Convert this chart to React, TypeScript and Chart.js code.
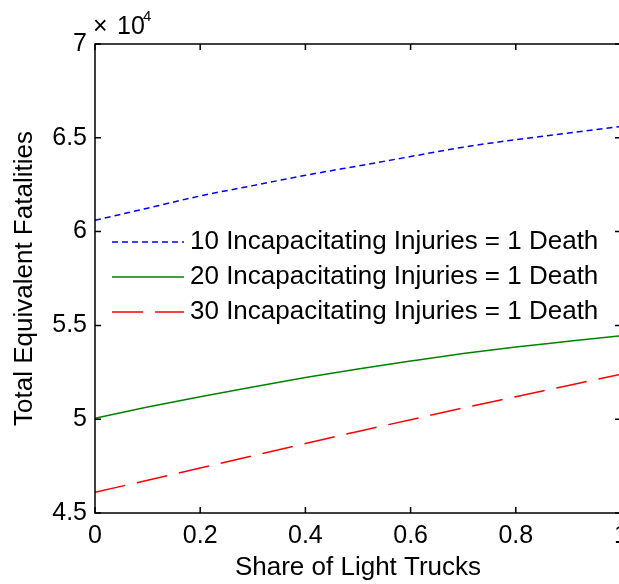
import React, { useEffect, useRef } from "react";
import { Chart, registerables } from "chart.js";

Chart.register(...registerables);

// ---- data ----
const shareLightTrucks = [0, 0.1, 0.2, 0.3, 0.4, 0.5, 0.6, 0.7, 0.8, 0.9, 1.0];
const injuries10 = [60600, 61250, 61900, 62450, 63000, 63500, 64000, 64500, 64900, 65250, 65600];
const injuries20 = [50050, 50650, 51200, 51720, 52220, 52680, 53100, 53500, 53850, 54150, 54450];
const injuries30 = [46100, 46750, 47400, 48050, 48700, 49350, 49970, 50600, 51200, 51800, 52400];
const seriesLabels = [
  "10 Incapacitating Injuries = 1 Death",
  "20 Incapacitating Injuries = 1 Death",
  "30 Incapacitating Injuries = 1 Death",
];
const xTitle = "Share of Light Trucks";
const yTitle = "Total Equivalent Fatalities";

const FONT = '"Liberation Sans", Arial, sans-serif';
const FS = 25;
const FS_T = 26;

const matlabFrame = {
  id: "matlabFrame",
  afterDatasetsDraw(chart: any) {
    const { ctx, chartArea, scales } = chart;
    const { left, right, top, bottom } = chartArea;
    const xs = scales.x;
    const ys = scales.y;
    ctx.save();
    ctx.strokeStyle = "#000";
    ctx.lineWidth = 1.5;
    ctx.setLineDash([]);
    ctx.strokeRect(left, top, right - left, bottom - top);
    const tl = 6;
    ctx.beginPath();
    xs.ticks.forEach((t: any) => {
      const px = xs.getPixelForValue(t.value);
      ctx.moveTo(px, bottom);
      ctx.lineTo(px, bottom - tl);
      ctx.moveTo(px, top);
      ctx.lineTo(px, top + tl);
    });
    ys.ticks.forEach((t: any) => {
      const py = ys.getPixelForValue(t.value);
      ctx.moveTo(left, py);
      ctx.lineTo(left + tl, py);
      ctx.moveTo(right, py);
      ctx.lineTo(right - tl, py);
    });
    ctx.stroke();

    // legend (no box), inside the axes
    const lx0 = left + 17;
    const lx1 = left + 89;
    const tx = left + 95;
    const ly0 = top + 198;
    chart.data.datasets.forEach((ds: any, i: number) => {
      const cy = ly0 + i * 35;
      ctx.beginPath();
      ctx.strokeStyle = ds.borderColor;
      ctx.lineWidth = ds.borderWidth;
      ctx.setLineDash(ds.borderDash || []);
      ctx.moveTo(lx0, cy);
      ctx.lineTo(lx1, cy);
      ctx.stroke();
      ctx.setLineDash([]);
      ctx.fillStyle = "#000";
      ctx.font = `${FS_T}px ${FONT}`;
      ctx.textAlign = "left";
      ctx.textBaseline = "middle";
      ctx.fillText(ds.label, tx, cy);
    });

    // exponent label
    ctx.fillStyle = "#000";
    ctx.textAlign = "left";
    ctx.textBaseline = "alphabetic";
    ctx.font = `${FS}px ${FONT}`;
    ctx.fillText("\u00d7", left - 2, top - 10);
    ctx.fillText("10", left + 22, top - 10);
    ctx.font = `15px ${FONT}`;
    ctx.fillText("4", left + 48, top - 23);
    ctx.restore();
  },
};

export default function App() {
  const ref = useRef<HTMLCanvasElement>(null);
  useEffect(() => {
    if (!ref.current) return;
    const chart = new Chart(ref.current, {
      type: "line",
      data: {
        datasets: [
          {
            label: seriesLabels[0],
            data: shareLightTrucks.map((x, i) => ({ x, y: injuries10[i] })),
            borderColor: "#0000ff",
            borderWidth: 1.5,
            borderDash: [6, 4],
            pointRadius: 0,
            cubicInterpolationMode: "monotone",
          },
          {
            label: seriesLabels[1],
            data: shareLightTrucks.map((x, i) => ({ x, y: injuries20[i] })),
            borderColor: "#008000",
            borderWidth: 1.5,
            pointRadius: 0,
            cubicInterpolationMode: "monotone",
          },
          {
            label: seriesLabels[2],
            data: shareLightTrucks.map((x, i) => ({ x, y: injuries30[i] })),
            borderColor: "#ff0000",
            borderWidth: 1.5,
            borderDash: [31, 12],
            pointRadius: 0,
            cubicInterpolationMode: "monotone",
          },
        ],
      },
      options: {
        animation: false,
        responsive: false,
        devicePixelRatio: 1,
        layout: { padding: { left: 0, right: 39, top: 44, bottom: 0 } },
        plugins: { legend: { display: false }, tooltip: { enabled: false } },
        scales: {
          x: {
            type: "linear",
            min: 0,
            max: 1,
            grid: { display: false, drawTicks: false },
            border: { display: false },
            ticks: {
              stepSize: 0.2,
              padding: 8,
              color: "#000",
              font: { family: FONT, size: FS },
              maxRotation: 0,
              callback: (v: any) => String(Number(Number(v).toFixed(1))),
            },
            title: {
              display: true,
              text: xTitle,
              color: "#000",
              font: { family: FONT, size: FS_T },
              padding: { top: 0, bottom: 1 },
            },
            afterFit: (s: any) => {
              s.height = 71;
            },
          },
          y: {
            type: "linear",
            min: 45000,
            max: 70000,
            grid: { display: false, drawTicks: false },
            border: { display: false },
            ticks: {
              stepSize: 5000,
              padding: 8,
              color: "#000",
              font: { family: FONT, size: FS },
              callback: (v: any) => String(Number((Number(v) / 10000).toFixed(1))),
            },
            title: {
              display: true,
              text: yTitle,
              color: "#000",
              font: { family: FONT, size: FS_T },
              padding: { top: 9, bottom: 0 },
            },
            afterFit: (s: any) => {
              s.width = 95;
            },
          },
        },
      },
      plugins: [matlabFrame],
    });
    return () => chart.destroy();
  }, []);

  return (
    <div
      style={{
        position: "absolute",
        left: 0,
        top: 0,
        width: 619,
        height: 584,
        overflow: "hidden",
        background: "#fff",
      }}
    >
      <canvas ref={ref} width={660} height={584} style={{ width: 660, height: 584, display: "block" }} />
    </div>
  );
}
